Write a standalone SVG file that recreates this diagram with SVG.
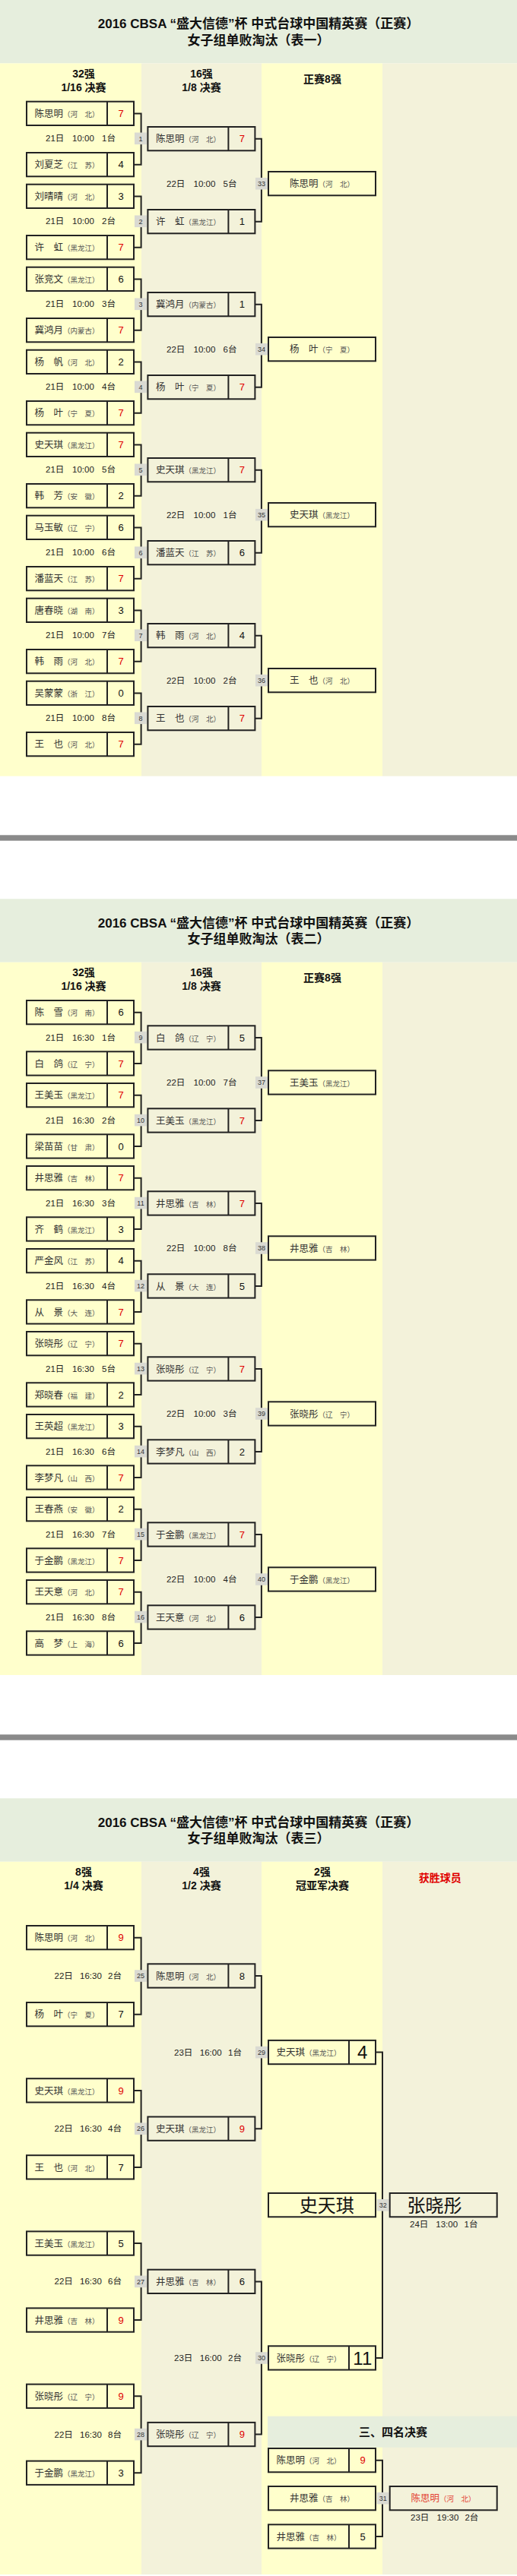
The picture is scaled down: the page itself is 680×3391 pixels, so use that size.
<svg xmlns="http://www.w3.org/2000/svg" xmlns:xlink="http://www.w3.org/1999/xlink" width="680" height="3391" viewBox="0 0 680 3391">
<style>
text{font-family:"Liberation Sans","Noto Sans CJK SC",sans-serif}
.nm{font-family:"Noto Sans CJK SC",sans-serif;font-size:12.5px;fill:#333}
.pv{font-size:9.5px;fill:#555}
.c{text-anchor:middle}
.sc{font-size:13px;fill:#111;text-anchor:middle}
.w{fill:#E00000}
.tm{font-size:11.5px;fill:#222}
.lt{font-size:9px;fill:#333;text-anchor:middle}
.lr{fill:#DADAD2}
.bx{fill:none;stroke:#222;stroke-width:2}
.cn path{fill:none;stroke:#222;stroke-width:2}
.tt{font-size:17px;font-weight:bold;fill:#111;text-anchor:middle}
.ch{font-size:14px;font-weight:bold;fill:#111;text-anchor:middle}
.hd{fill:#E6EEDD}
.cy{fill:#FFFFCC}
.cb{fill:#F3F2DA}
.big{font-family:"Noto Sans CJK SC",sans-serif;font-size:24px;fill:#111}
.bs{font-size:24px;text-anchor:middle;fill:#111}
.rd{fill:#E34234}
</style>
<defs>
<g id="b2"><rect class="bx" x="1" y="1" width="141" height="31.3"/><line class="bx" x1="107" y1="1" x2="107" y2="32.3"/></g>
<rect id="b1" class="bx" x="1" y="1" width="141" height="31.3"/>
</defs>
<rect width="680" height="3391" fill="#FFFFFF"/>
<rect x="0" y="1099.3" width="680" height="7.4" fill="#8A8A8A"/>
<rect x="0" y="2283.3" width="680" height="7.4" fill="#8A8A8A"/>

<!-- ================= TABLE 1 ================= -->
<g id="table1">
<g id="t1-bg">
<rect class="hd" x="0" y="0" width="680" height="83.4"/>
<rect class="cy" x="0" y="83.4" width="186" height="938.3"/>
<rect class="cb" x="186" y="83.4" width="158" height="938.3"/>
<rect class="cy" x="344" y="83.4" width="159" height="938.3"/>
<rect class="cb" x="503" y="83.4" width="177" height="938.3"/>
<text class="tt" x="340" y="37.3">2016 CBSA “盛大信德”杯 中式台球中国精英赛（正赛）</text>
<text class="tt" x="340" y="58.6">女子组单败淘汰（表一）</text>
<text class="ch" x="110" y="102">32强</text>
<text class="ch" x="110" y="120">1/16 决赛</text>
<text class="ch" x="265" y="102">16强</text>
<text class="ch" x="265" y="120">1/8 决赛</text>
<text class="ch" x="424" y="109.2">正赛8强</text>
</g>
<g id="t1-connectors" class="cn">
<path d="M177 149.4H185.6V216.7H177"/>
<path d="M177 258.4H185.6V325.7H177"/>
<path d="M177 367.4H185.6V434.7H177"/>
<path d="M177 476.4H185.6V543.7H177"/>
<path d="M177 585.4H185.6V652.7H177"/>
<path d="M177 694.4H185.6V761.7H177"/>
<path d="M177 803.4H185.6V870.7H177"/>
<path d="M177 912.4H185.6V979.7H177"/>
<path d="M336 182.7H343.9V291.7H336"/>
<path d="M336 400.7H343.9V509.7H336"/>
<path d="M336 618.7H343.9V727.7H336"/>
<path d="M336 836.7H343.9V945.7H336"/>
</g>
<g id="t1-labels">
<rect class="lr" x="177" y="174.5" width="16" height="15.6"/><text class="lt" x="185" y="185.5">1</text>
<rect class="lr" x="177" y="283.5" width="16" height="15.6"/><text class="lt" x="185" y="294.5">2</text>
<rect class="lr" x="177" y="392.5" width="16" height="15.6"/><text class="lt" x="185" y="403.5">3</text>
<rect class="lr" x="177" y="501.5" width="16" height="15.6"/><text class="lt" x="185" y="512.5">4</text>
<rect class="lr" x="177" y="610.5" width="16" height="15.6"/><text class="lt" x="185" y="621.5">5</text>
<rect class="lr" x="177" y="719.5" width="16" height="15.6"/><text class="lt" x="185" y="730.5">6</text>
<rect class="lr" x="177" y="828.5" width="16" height="15.6"/><text class="lt" x="185" y="839.5">7</text>
<rect class="lr" x="177" y="937.5" width="16" height="15.6"/><text class="lt" x="185" y="948.5">8</text>
<rect class="lr" x="336" y="233.9" width="16" height="15.6"/><text class="lt" x="344" y="244.9">33</text>
<rect class="lr" x="336" y="451.9" width="16" height="15.6"/><text class="lt" x="344" y="462.9">34</text>
<rect class="lr" x="336" y="669.9" width="16" height="15.6"/><text class="lt" x="344" y="680.9">35</text>
<rect class="lr" x="336" y="887.9" width="16" height="15.6"/><text class="lt" x="344" y="898.9">36</text>
<text class="tm" y="186.4"><tspan x="60">21日</tspan><tspan x="95">10:00</tspan><tspan x="134">1台</tspan></text>
<text class="tm" y="295.4"><tspan x="60">21日</tspan><tspan x="95">10:00</tspan><tspan x="134">2台</tspan></text>
<text class="tm" y="404.4"><tspan x="60">21日</tspan><tspan x="95">10:00</tspan><tspan x="134">3台</tspan></text>
<text class="tm" y="513.4"><tspan x="60">21日</tspan><tspan x="95">10:00</tspan><tspan x="134">4台</tspan></text>
<text class="tm" y="622.4"><tspan x="60">21日</tspan><tspan x="95">10:00</tspan><tspan x="134">5台</tspan></text>
<text class="tm" y="731.4"><tspan x="60">21日</tspan><tspan x="95">10:00</tspan><tspan x="134">6台</tspan></text>
<text class="tm" y="840.4"><tspan x="60">21日</tspan><tspan x="95">10:00</tspan><tspan x="134">7台</tspan></text>
<text class="tm" y="949.4"><tspan x="60">21日</tspan><tspan x="95">10:00</tspan><tspan x="134">8台</tspan></text>
<text class="tm" y="245.8"><tspan x="219">22日</tspan><tspan x="254.5">10:00</tspan><tspan x="293.6">5台</tspan></text>
<text class="tm" y="463.8"><tspan x="219">22日</tspan><tspan x="254.5">10:00</tspan><tspan x="293.6">6台</tspan></text>
<text class="tm" y="681.8"><tspan x="219">22日</tspan><tspan x="254.5">10:00</tspan><tspan x="293.6">1台</tspan></text>
<text class="tm" y="899.8"><tspan x="219">22日</tspan><tspan x="254.5">10:00</tspan><tspan x="293.6">2台</tspan></text>
</g>
<g id="t1-nodes">
<g id="t1-1a" transform="translate(34,132.7)"><use href="#b2"/><text class="nm" x="11.5" y="21.4">陈思明<tspan class="pv">（河　北）</tspan></text><text class="sc w" x="125" y="21.4">7</text></g>
<g id="t1-1b" transform="translate(34,200)"><use href="#b2"/><text class="nm" x="11.5" y="21.4">刘夏芝<tspan class="pv">（江　苏）</tspan></text><text class="sc" x="125" y="21.4">4</text></g>
<g id="t1-2a" transform="translate(34,241.7)"><use href="#b2"/><text class="nm" x="11.5" y="21.4">刘晴晴<tspan class="pv">（河　北）</tspan></text><text class="sc" x="125" y="21.4">3</text></g>
<g id="t1-2b" transform="translate(34,309)"><use href="#b2"/><text class="nm" x="11.5" y="21.4">许　虹<tspan class="pv">（黑龙江）</tspan></text><text class="sc w" x="125" y="21.4">7</text></g>
<g id="t1-3a" transform="translate(34,350.7)"><use href="#b2"/><text class="nm" x="11.5" y="21.4">张竞文<tspan class="pv">（黑龙江）</tspan></text><text class="sc" x="125" y="21.4">6</text></g>
<g id="t1-3b" transform="translate(34,418)"><use href="#b2"/><text class="nm" x="11.5" y="21.4">冀鸿月<tspan class="pv">（内蒙古）</tspan></text><text class="sc w" x="125" y="21.4">7</text></g>
<g id="t1-4a" transform="translate(34,459.7)"><use href="#b2"/><text class="nm" x="11.5" y="21.4">杨　帆<tspan class="pv">（河　北）</tspan></text><text class="sc" x="125" y="21.4">2</text></g>
<g id="t1-4b" transform="translate(34,527)"><use href="#b2"/><text class="nm" x="11.5" y="21.4">杨　叶<tspan class="pv">（宁　夏）</tspan></text><text class="sc w" x="125" y="21.4">7</text></g>
<g id="t1-5a" transform="translate(34,568.7)"><use href="#b2"/><text class="nm" x="11.5" y="21.4">史天琪<tspan class="pv">（黑龙江）</tspan></text><text class="sc w" x="125" y="21.4">7</text></g>
<g id="t1-5b" transform="translate(34,636)"><use href="#b2"/><text class="nm" x="11.5" y="21.4">韩　芳<tspan class="pv">（安　徽）</tspan></text><text class="sc" x="125" y="21.4">2</text></g>
<g id="t1-6a" transform="translate(34,677.7)"><use href="#b2"/><text class="nm" x="11.5" y="21.4">马玉敏<tspan class="pv">（辽　宁）</tspan></text><text class="sc" x="125" y="21.4">6</text></g>
<g id="t1-6b" transform="translate(34,745)"><use href="#b2"/><text class="nm" x="11.5" y="21.4">潘蓝天<tspan class="pv">（江　苏）</tspan></text><text class="sc w" x="125" y="21.4">7</text></g>
<g id="t1-7a" transform="translate(34,786.7)"><use href="#b2"/><text class="nm" x="11.5" y="21.4">唐春晓<tspan class="pv">（湖　南）</tspan></text><text class="sc" x="125" y="21.4">3</text></g>
<g id="t1-7b" transform="translate(34,854)"><use href="#b2"/><text class="nm" x="11.5" y="21.4">韩　雨<tspan class="pv">（河　北）</tspan></text><text class="sc w" x="125" y="21.4">7</text></g>
<g id="t1-8a" transform="translate(34,895.7)"><use href="#b2"/><text class="nm" x="11.5" y="21.4">吴蒙蒙<tspan class="pv">（浙　江）</tspan></text><text class="sc" x="125" y="21.4">0</text></g>
<g id="t1-8b" transform="translate(34,963)"><use href="#b2"/><text class="nm" x="11.5" y="21.4">王　也<tspan class="pv">（河　北）</tspan></text><text class="sc w" x="125" y="21.4">7</text></g>
<g id="t1-33a" transform="translate(193.4,166)"><use href="#b2"/><text class="nm" x="11.5" y="21.4">陈思明<tspan class="pv">（河　北）</tspan></text><text class="sc w" x="125" y="21.4">7</text></g>
<g id="t1-33b" transform="translate(193.4,275)"><use href="#b2"/><text class="nm" x="11.5" y="21.4">许　虹<tspan class="pv">（黑龙江）</tspan></text><text class="sc" x="125" y="21.4">1</text></g>
<g id="t1-34a" transform="translate(193.4,384)"><use href="#b2"/><text class="nm" x="11.5" y="21.4">冀鸿月<tspan class="pv">（内蒙古）</tspan></text><text class="sc" x="125" y="21.4">1</text></g>
<g id="t1-34b" transform="translate(193.4,493)"><use href="#b2"/><text class="nm" x="11.5" y="21.4">杨　叶<tspan class="pv">（宁　夏）</tspan></text><text class="sc w" x="125" y="21.4">7</text></g>
<g id="t1-35a" transform="translate(193.4,602)"><use href="#b2"/><text class="nm" x="11.5" y="21.4">史天琪<tspan class="pv">（黑龙江）</tspan></text><text class="sc w" x="125" y="21.4">7</text></g>
<g id="t1-35b" transform="translate(193.4,711)"><use href="#b2"/><text class="nm" x="11.5" y="21.4">潘蓝天<tspan class="pv">（江　苏）</tspan></text><text class="sc" x="125" y="21.4">6</text></g>
<g id="t1-36a" transform="translate(193.4,820)"><use href="#b2"/><text class="nm" x="11.5" y="21.4">韩　雨<tspan class="pv">（河　北）</tspan></text><text class="sc" x="125" y="21.4">4</text></g>
<g id="t1-36b" transform="translate(193.4,929)"><use href="#b2"/><text class="nm" x="11.5" y="21.4">王　也<tspan class="pv">（河　北）</tspan></text><text class="sc w" x="125" y="21.4">7</text></g>
<g id="t1-w33" transform="translate(352,225)"><use href="#b1"/><text class="nm c" x="71.5" y="21.4">陈思明<tspan class="pv">（河　北）</tspan></text></g>
<g id="t1-w34" transform="translate(352,443)"><use href="#b1"/><text class="nm c" x="71.5" y="21.4">杨　叶<tspan class="pv">（宁　夏）</tspan></text></g>
<g id="t1-w35" transform="translate(352,661)"><use href="#b1"/><text class="nm c" x="71.5" y="21.4">史天琪<tspan class="pv">（黑龙江）</tspan></text></g>
<g id="t1-w36" transform="translate(352,879)"><use href="#b1"/><text class="nm c" x="71.5" y="21.4">王　也<tspan class="pv">（河　北）</tspan></text></g>
</g>
</g>

<!-- ================= TABLE 2 ================= -->
<g id="table2" transform="translate(0,1183.3)">
<g id="t2-bg">
<rect class="hd" x="0" y="0" width="680" height="83.4"/>
<rect class="cy" x="0" y="83.4" width="186" height="938.3"/>
<rect class="cb" x="186" y="83.4" width="158" height="938.3"/>
<rect class="cy" x="344" y="83.4" width="159" height="938.3"/>
<rect class="cb" x="503" y="83.4" width="177" height="938.3"/>
<text class="tt" x="340" y="37.3">2016 CBSA “盛大信德”杯 中式台球中国精英赛（正赛）</text>
<text class="tt" x="340" y="58.6">女子组单败淘汰（表二）</text>
<text class="ch" x="110" y="102">32强</text>
<text class="ch" x="110" y="120">1/16 决赛</text>
<text class="ch" x="265" y="102">16强</text>
<text class="ch" x="265" y="120">1/8 决赛</text>
<text class="ch" x="424" y="109.2">正赛8强</text>
</g>
<g id="t2-connectors" class="cn">
<path d="M177 149.4H185.6V216.7H177"/>
<path d="M177 258.4H185.6V325.7H177"/>
<path d="M177 367.4H185.6V434.7H177"/>
<path d="M177 476.4H185.6V543.7H177"/>
<path d="M177 585.4H185.6V652.7H177"/>
<path d="M177 694.4H185.6V761.7H177"/>
<path d="M177 803.4H185.6V870.7H177"/>
<path d="M177 912.4H185.6V979.7H177"/>
<path d="M336 182.7H343.9V291.7H336"/>
<path d="M336 400.7H343.9V509.7H336"/>
<path d="M336 618.7H343.9V727.7H336"/>
<path d="M336 836.7H343.9V945.7H336"/>
</g>
<g id="t2-labels">
<rect class="lr" x="177" y="174.5" width="16" height="15.6"/><text class="lt" x="185" y="185.5">9</text>
<rect class="lr" x="177" y="283.5" width="16" height="15.6"/><text class="lt" x="185" y="294.5">10</text>
<rect class="lr" x="177" y="392.5" width="16" height="15.6"/><text class="lt" x="185" y="403.5">11</text>
<rect class="lr" x="177" y="501.5" width="16" height="15.6"/><text class="lt" x="185" y="512.5">12</text>
<rect class="lr" x="177" y="610.5" width="16" height="15.6"/><text class="lt" x="185" y="621.5">13</text>
<rect class="lr" x="177" y="719.5" width="16" height="15.6"/><text class="lt" x="185" y="730.5">14</text>
<rect class="lr" x="177" y="828.5" width="16" height="15.6"/><text class="lt" x="185" y="839.5">15</text>
<rect class="lr" x="177" y="937.5" width="16" height="15.6"/><text class="lt" x="185" y="948.5">16</text>
<rect class="lr" x="336" y="233.9" width="16" height="15.6"/><text class="lt" x="344" y="244.9">37</text>
<rect class="lr" x="336" y="451.9" width="16" height="15.6"/><text class="lt" x="344" y="462.9">38</text>
<rect class="lr" x="336" y="669.9" width="16" height="15.6"/><text class="lt" x="344" y="680.9">39</text>
<rect class="lr" x="336" y="887.9" width="16" height="15.6"/><text class="lt" x="344" y="898.9">40</text>
<text class="tm" y="186.4"><tspan x="60">21日</tspan><tspan x="95">16:30</tspan><tspan x="134">1台</tspan></text>
<text class="tm" y="295.4"><tspan x="60">21日</tspan><tspan x="95">16:30</tspan><tspan x="134">2台</tspan></text>
<text class="tm" y="404.4"><tspan x="60">21日</tspan><tspan x="95">16:30</tspan><tspan x="134">3台</tspan></text>
<text class="tm" y="513.4"><tspan x="60">21日</tspan><tspan x="95">16:30</tspan><tspan x="134">4台</tspan></text>
<text class="tm" y="622.4"><tspan x="60">21日</tspan><tspan x="95">16:30</tspan><tspan x="134">5台</tspan></text>
<text class="tm" y="731.4"><tspan x="60">21日</tspan><tspan x="95">16:30</tspan><tspan x="134">6台</tspan></text>
<text class="tm" y="840.4"><tspan x="60">21日</tspan><tspan x="95">16:30</tspan><tspan x="134">7台</tspan></text>
<text class="tm" y="949.4"><tspan x="60">21日</tspan><tspan x="95">16:30</tspan><tspan x="134">8台</tspan></text>
<text class="tm" y="245.8"><tspan x="219">22日</tspan><tspan x="254.5">10:00</tspan><tspan x="293.6">7台</tspan></text>
<text class="tm" y="463.8"><tspan x="219">22日</tspan><tspan x="254.5">10:00</tspan><tspan x="293.6">8台</tspan></text>
<text class="tm" y="681.8"><tspan x="219">22日</tspan><tspan x="254.5">10:00</tspan><tspan x="293.6">3台</tspan></text>
<text class="tm" y="899.8"><tspan x="219">22日</tspan><tspan x="254.5">10:00</tspan><tspan x="293.6">4台</tspan></text>
</g>
<g id="t2-nodes">
<g id="t2-9a" transform="translate(34,132.7)"><use href="#b2"/><text class="nm" x="11.5" y="21.4">陈　雪<tspan class="pv">（河　南）</tspan></text><text class="sc" x="125" y="21.4">6</text></g>
<g id="t2-9b" transform="translate(34,200)"><use href="#b2"/><text class="nm" x="11.5" y="21.4">白　鸽<tspan class="pv">（辽　宁）</tspan></text><text class="sc w" x="125" y="21.4">7</text></g>
<g id="t2-10a" transform="translate(34,241.7)"><use href="#b2"/><text class="nm" x="11.5" y="21.4">王美玉<tspan class="pv">（黑龙江）</tspan></text><text class="sc w" x="125" y="21.4">7</text></g>
<g id="t2-10b" transform="translate(34,309)"><use href="#b2"/><text class="nm" x="11.5" y="21.4">梁苗苗<tspan class="pv">（甘　肃）</tspan></text><text class="sc" x="125" y="21.4">0</text></g>
<g id="t2-11a" transform="translate(34,350.7)"><use href="#b2"/><text class="nm" x="11.5" y="21.4">井思雅<tspan class="pv">（吉　林）</tspan></text><text class="sc w" x="125" y="21.4">7</text></g>
<g id="t2-11b" transform="translate(34,418)"><use href="#b2"/><text class="nm" x="11.5" y="21.4">齐　鹤<tspan class="pv">（黑龙江）</tspan></text><text class="sc" x="125" y="21.4">3</text></g>
<g id="t2-12a" transform="translate(34,459.7)"><use href="#b2"/><text class="nm" x="11.5" y="21.4">严金风<tspan class="pv">（江　苏）</tspan></text><text class="sc" x="125" y="21.4">4</text></g>
<g id="t2-12b" transform="translate(34,527)"><use href="#b2"/><text class="nm" x="11.5" y="21.4">从　景<tspan class="pv">（大　连）</tspan></text><text class="sc w" x="125" y="21.4">7</text></g>
<g id="t2-13a" transform="translate(34,568.7)"><use href="#b2"/><text class="nm" x="11.5" y="21.4">张晓彤<tspan class="pv">（辽　宁）</tspan></text><text class="sc w" x="125" y="21.4">7</text></g>
<g id="t2-13b" transform="translate(34,636)"><use href="#b2"/><text class="nm" x="11.5" y="21.4">郑晓春<tspan class="pv">（福　建）</tspan></text><text class="sc" x="125" y="21.4">2</text></g>
<g id="t2-14a" transform="translate(34,677.7)"><use href="#b2"/><text class="nm" x="11.5" y="21.4">王英超<tspan class="pv">（黑龙江）</tspan></text><text class="sc" x="125" y="21.4">3</text></g>
<g id="t2-14b" transform="translate(34,745)"><use href="#b2"/><text class="nm" x="11.5" y="21.4">李梦凡<tspan class="pv">（山　西）</tspan></text><text class="sc w" x="125" y="21.4">7</text></g>
<g id="t2-15a" transform="translate(34,786.7)"><use href="#b2"/><text class="nm" x="11.5" y="21.4">王春燕<tspan class="pv">（安　徽）</tspan></text><text class="sc" x="125" y="21.4">2</text></g>
<g id="t2-15b" transform="translate(34,854)"><use href="#b2"/><text class="nm" x="11.5" y="21.4">于金鹏<tspan class="pv">（黑龙江）</tspan></text><text class="sc w" x="125" y="21.4">7</text></g>
<g id="t2-16a" transform="translate(34,895.7)"><use href="#b2"/><text class="nm" x="11.5" y="21.4">王天意<tspan class="pv">（河　北）</tspan></text><text class="sc w" x="125" y="21.4">7</text></g>
<g id="t2-16b" transform="translate(34,963)"><use href="#b2"/><text class="nm" x="11.5" y="21.4">高　梦<tspan class="pv">（上　海）</tspan></text><text class="sc" x="125" y="21.4">6</text></g>
<g id="t2-37a" transform="translate(193.4,166)"><use href="#b2"/><text class="nm" x="11.5" y="21.4">白　鸽<tspan class="pv">（辽　宁）</tspan></text><text class="sc" x="125" y="21.4">5</text></g>
<g id="t2-37b" transform="translate(193.4,275)"><use href="#b2"/><text class="nm" x="11.5" y="21.4">王美玉<tspan class="pv">（黑龙江）</tspan></text><text class="sc w" x="125" y="21.4">7</text></g>
<g id="t2-38a" transform="translate(193.4,384)"><use href="#b2"/><text class="nm" x="11.5" y="21.4">井思雅<tspan class="pv">（吉　林）</tspan></text><text class="sc w" x="125" y="21.4">7</text></g>
<g id="t2-38b" transform="translate(193.4,493)"><use href="#b2"/><text class="nm" x="11.5" y="21.4">从　景<tspan class="pv">（大　连）</tspan></text><text class="sc" x="125" y="21.4">5</text></g>
<g id="t2-39a" transform="translate(193.4,602)"><use href="#b2"/><text class="nm" x="11.5" y="21.4">张晓彤<tspan class="pv">（辽　宁）</tspan></text><text class="sc w" x="125" y="21.4">7</text></g>
<g id="t2-39b" transform="translate(193.4,711)"><use href="#b2"/><text class="nm" x="11.5" y="21.4">李梦凡<tspan class="pv">（山　西）</tspan></text><text class="sc" x="125" y="21.4">2</text></g>
<g id="t2-40a" transform="translate(193.4,820)"><use href="#b2"/><text class="nm" x="11.5" y="21.4">于金鹏<tspan class="pv">（黑龙江）</tspan></text><text class="sc w" x="125" y="21.4">7</text></g>
<g id="t2-40b" transform="translate(193.4,929)"><use href="#b2"/><text class="nm" x="11.5" y="21.4">王天意<tspan class="pv">（河　北）</tspan></text><text class="sc" x="125" y="21.4">6</text></g>
<g id="t2-w37" transform="translate(352,225)"><use href="#b1"/><text class="nm c" x="71.5" y="21.4">王美玉<tspan class="pv">（黑龙江）</tspan></text></g>
<g id="t2-w38" transform="translate(352,443)"><use href="#b1"/><text class="nm c" x="71.5" y="21.4">井思雅<tspan class="pv">（吉　林）</tspan></text></g>
<g id="t2-w39" transform="translate(352,661)"><use href="#b1"/><text class="nm c" x="71.5" y="21.4">张晓彤<tspan class="pv">（辽　宁）</tspan></text></g>
<g id="t2-w40" transform="translate(352,879)"><use href="#b1"/><text class="nm c" x="71.5" y="21.4">于金鹏<tspan class="pv">（黑龙江）</tspan></text></g>
</g>
</g>

<!-- ================= TABLE 3 ================= -->
<g id="table3" transform="translate(0,2367.3)">
<g id="t3-bg">
<rect class="hd" x="0" y="0" width="680" height="83.4"/>
<rect class="cy" x="0" y="83.4" width="186" height="938.3"/>
<rect class="cb" x="186" y="83.4" width="158" height="938.3"/>
<rect class="cy" x="344" y="83.4" width="159" height="938.3"/>
<rect class="cb" x="503" y="83.4" width="177" height="938.3"/>
<rect class="hd" x="352" y="813.4" width="328" height="41"/>
<text class="tt" x="340" y="37.3">2016 CBSA “盛大信德”杯 中式台球中国精英赛（正赛）</text>
<text class="tt" x="340" y="58.6">女子组单败淘汰（表三）</text>
<text class="ch" x="110" y="102">8强</text>
<text class="ch" x="110" y="120">1/4 决赛</text>
<text class="ch" x="265" y="102">4强</text>
<text class="ch" x="265" y="120">1/2 决赛</text>
<text class="ch" x="424" y="102">2强</text>
<text class="ch" x="424" y="120">冠亚军决赛</text>
<text class="ch" x="578.7" y="110.2" fill="#E00000" style="fill:#E00000">获胜球员</text>
<text x="517" y="839.4" style="font-size:15px;font-weight:bold;fill:#111;text-anchor:middle">三、四名决赛</text>
</g>
<g id="t3-connectors" class="cn">
<path d="M177 183.4H185.6V284.4H177"/>
<path d="M177 384.6H185.6V485.6H177"/>
<path d="M177 585.8H185.6V686.8H177"/>
<path d="M177 787H185.6V888H177"/>
<path d="M336 233.7H343.9V434.9H336"/>
<path d="M336 636.1H343.9V837.3H336"/>
<path d="M494.8 334.3H503V736.7H494.8"/>
<path d="M494.8 871.4H503V971.7H494.8"/>
</g>
<g id="t3-labels">
<rect class="lr" x="177" y="225.9" width="16" height="15.6"/><text class="lt" x="185" y="236.9">25</text>
<rect class="lr" x="177" y="427.1" width="16" height="15.6"/><text class="lt" x="185" y="438.1">26</text>
<rect class="lr" x="177" y="628.3" width="16" height="15.6"/><text class="lt" x="185" y="639.3">27</text>
<rect class="lr" x="177" y="829.5" width="16" height="15.6"/><text class="lt" x="185" y="840.5">28</text>
<rect class="lr" x="336" y="326.5" width="16" height="15.6"/><text class="lt" x="344" y="337.5">29</text>
<rect class="lr" x="336" y="728.9" width="16" height="15.6"/><text class="lt" x="344" y="739.9">30</text>
<rect class="lr" x="495.7" y="527.7" width="16" height="15.6"/><text class="lt" x="503.7" y="538.7">32</text>
<rect class="lr" x="495.7" y="913.6" width="16" height="15.6"/><text class="lt" x="503.7" y="924.6">31</text>
<text class="tm" y="237.8"><tspan x="71.5">22日</tspan><tspan x="105">16:30</tspan><tspan x="142">2台</tspan></text>
<text class="tm" y="439"><tspan x="71.5">22日</tspan><tspan x="105">16:30</tspan><tspan x="142">4台</tspan></text>
<text class="tm" y="640.2"><tspan x="71.5">22日</tspan><tspan x="105">16:30</tspan><tspan x="142">6台</tspan></text>
<text class="tm" y="841.4"><tspan x="71.5">22日</tspan><tspan x="105">16:30</tspan><tspan x="142">8台</tspan></text>
<text class="tm" y="338.4"><tspan x="229">23日</tspan><tspan x="262.8">16:00</tspan><tspan x="300">1台</tspan></text>
<text class="tm" y="740.8"><tspan x="229">23日</tspan><tspan x="262.8">16:00</tspan><tspan x="300">2台</tspan></text>
<text class="tm" y="565.1"><tspan x="539">24日</tspan><tspan x="573.3">13:00</tspan><tspan x="610.6">1台</tspan></text>
<text class="tm" y="950.8"><tspan x="540">23日</tspan><tspan x="574.6">19:30</tspan><tspan x="611.4">2台</tspan></text>
</g>
<g id="t3-nodes">
<g id="t3-25a" transform="translate(34,166.7)"><use href="#b2"/><text class="nm" x="11.5" y="21.4">陈思明<tspan class="pv">（河　北）</tspan></text><text class="sc w" x="125" y="21.4">9</text></g>
<g id="t3-25b" transform="translate(34,267.7)"><use href="#b2"/><text class="nm" x="11.5" y="21.4">杨　叶<tspan class="pv">（宁　夏）</tspan></text><text class="sc" x="125" y="21.4">7</text></g>
<g id="t3-26a" transform="translate(34,367.9)"><use href="#b2"/><text class="nm" x="11.5" y="21.4">史天琪<tspan class="pv">（黑龙江）</tspan></text><text class="sc w" x="125" y="21.4">9</text></g>
<g id="t3-26b" transform="translate(34,468.9)"><use href="#b2"/><text class="nm" x="11.5" y="21.4">王　也<tspan class="pv">（河　北）</tspan></text><text class="sc" x="125" y="21.4">7</text></g>
<g id="t3-27a" transform="translate(34,569.1)"><use href="#b2"/><text class="nm" x="11.5" y="21.4">王美玉<tspan class="pv">（黑龙江）</tspan></text><text class="sc" x="125" y="21.4">5</text></g>
<g id="t3-27b" transform="translate(34,670.1)"><use href="#b2"/><text class="nm" x="11.5" y="21.4">井思雅<tspan class="pv">（吉　林）</tspan></text><text class="sc w" x="125" y="21.4">9</text></g>
<g id="t3-28a" transform="translate(34,770.3)"><use href="#b2"/><text class="nm" x="11.5" y="21.4">张晓彤<tspan class="pv">（辽　宁）</tspan></text><text class="sc w" x="125" y="21.4">9</text></g>
<g id="t3-28b" transform="translate(34,871.3)"><use href="#b2"/><text class="nm" x="11.5" y="21.4">于金鹏<tspan class="pv">（黑龙江）</tspan></text><text class="sc" x="125" y="21.4">3</text></g>
<g id="t3-29a" transform="translate(193.4,217)"><use href="#b2"/><text class="nm" x="11.5" y="21.4">陈思明<tspan class="pv">（河　北）</tspan></text><text class="sc" x="125" y="21.4">8</text></g>
<g id="t3-29b" transform="translate(193.4,418.2)"><use href="#b2"/><text class="nm" x="11.5" y="21.4">史天琪<tspan class="pv">（黑龙江）</tspan></text><text class="sc w" x="125" y="21.4">9</text></g>
<g id="t3-30a" transform="translate(193.4,619.4)"><use href="#b2"/><text class="nm" x="11.5" y="21.4">井思雅<tspan class="pv">（吉　林）</tspan></text><text class="sc" x="125" y="21.4">6</text></g>
<g id="t3-30b" transform="translate(193.4,820.6)"><use href="#b2"/><text class="nm" x="11.5" y="21.4">张晓彤<tspan class="pv">（辽　宁）</tspan></text><text class="sc w" x="125" y="21.4">9</text></g>
<g id="t3-32a" transform="translate(352,317.6)"><use href="#b2"/><text class="nm" x="11.5" y="21.4">史天琪<tspan class="pv">（黑龙江）</tspan></text><text class="bs" x="124.8" y="25.3">4</text></g>
<g id="t3-32b" transform="translate(352,720)"><use href="#b2"/><text class="nm" x="11.5" y="21.4">张晓彤<tspan class="pv">（辽　宁）</tspan></text><text class="bs w" x="124.8" y="25.3">11</text></g>
<g id="t3-runnerup" transform="translate(352,518.7)"><use href="#b1"/><text class="big" x="41.8" y="25.9">史天琪</text></g>
<g id="t3-champion" transform="translate(511.7,518.7)"><use href="#b1"/><text class="big" x="23.9" y="25.9">张晓彤</text></g>
<g id="t3-31a" transform="translate(352,854.7)"><use href="#b2"/><text class="nm" x="11.5" y="21.4">陈思明<tspan class="pv">（河　北）</tspan></text><text class="sc w" x="125" y="21.4">9</text></g>
<g id="t3-31m" transform="translate(352,904.7)"><use href="#b1"/><text class="nm c" x="71.5" y="21.4">井思雅<tspan class="pv">（吉　林）</tspan></text></g>
<g id="t3-31b" transform="translate(352,955)"><use href="#b2"/><text class="nm" x="11.5" y="21.4">井思雅<tspan class="pv">（吉　林）</tspan></text><text class="sc" x="125" y="21.4">5</text></g>
<g id="t3-third" transform="translate(511.7,904.7)"><use href="#b1"/><text class="nm c rd" x="71.3" y="21.4">陈思明<tspan class="pv rd">（河　北）</tspan></text></g>
</g>
</g>
</svg>
